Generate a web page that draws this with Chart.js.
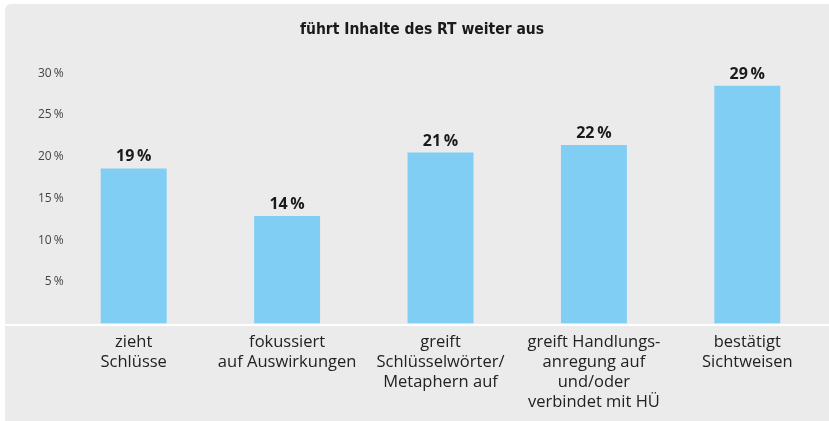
<!DOCTYPE html>
<html>
<head>
<meta charset="utf-8">
<script src="https://cdn.jsdelivr.net/npm/chart.js@4"></script>
<style>
  html, body { margin: 0; padding: 0; background: #fff; }
  #wrap { position: absolute; left: 5px; top: 4px; width: 824px; height: 417px;
          background: #ebebeb; border-top-left-radius: 6px; }
  #chart { position: absolute; left: 0; top: 0; }
</style>
</head>
<body>
<div id="wrap"></div>
<canvas id="chart" width="829" height="421"></canvas>
<script>
const title = "führt Inhalte des RT weiter aus";
const categories = [
  ["zieht", "Schlüsse"],
  ["fokussiert", "auf Auswirkungen"],
  ["greift", "Schlüsselwörter/", "Metaphern auf"],
  ["greift Handlungs-", "anregung auf", "und/oder", "verbindet mit HÜ"],
  ["bestätigt", "Sichtweisen"],
];
const values = [18.6, 12.9, 20.5, 21.4, 28.5];
const valueLabels = ["19\u2009%", "14\u2009%", "21\u2009%", "22\u2009%", "29\u2009%"];
const yTicks = [5, 10, 15, 20, 25, 30];

// value labels above the bars + white baseline across the panel
const extras = {
  id: "extras",
  afterDatasetsDraw(chart) {
    const ctx = chart.ctx;
    const y0 = chart.scales.y.getPixelForValue(0);
    ctx.save();
    ctx.fillStyle = "#ffffff";
    ctx.fillRect(5, Math.round(y0), 824, 2);
    ctx.font = "bold 16px 'Open Sans'";
    ctx.fillStyle = "#1a1a1a";
    ctx.textAlign = "center";
    ctx.textBaseline = "alphabetic";
    chart.getDatasetMeta(0).data.forEach((bar, i) => {
      ctx.fillText(valueLabels[i], bar.x, bar.y - 7);
    });
    ctx.restore();
  }
};

new Chart(document.getElementById("chart"), {
  type: "bar",
  data: {
    labels: categories,
    datasets: [{
      data: values,
      backgroundColor: "#81cef4",
      barPercentage: 0.43,
      categoryPercentage: 1,
    }],
  },
  options: {
    responsive: false,
    animation: false,
    layout: { padding: { left: 20, right: 5, top: 0, bottom: 0 } },
    plugins: {
      legend: { display: false },
      tooltip: { enabled: false },
      title: {
        display: true,
        text: title,
        color: "#1a1a1a",
        font: { family: "'DejaVu Sans Condensed'", size: 15.5, weight: "bold", lineHeight: 1.2 },
        padding: { top: 21, bottom: 33.7 },
      },
    },
    scales: {
      x: {
        afterFit: (s) => { s.height = 97.5; },
        grid: { display: false },
        border: { display: false },
        ticks: {
          color: "#222",
          font: { family: "'Open Sans'", size: 16.5, lineHeight: 1.21 },
          padding: 1,
          maxRotation: 0,
          autoSkip: false,
        },
      },
      y: {
        min: 0,
        max: 30,
        afterFit: (s) => { s.width = 37; },
        afterBuildTicks: (s) => { s.ticks = yTicks.map((v) => ({ value: v })); },
        grid: { display: false },
        border: { display: false },
        ticks: {
          color: "#444",
          font: { family: "'Open Sans'", size: 12 },
          mirror: true,
          crossAlign: "far",
          padding: -19,
          callback: (v) => v + "\u2009%",
        },
      },
    },
  },
  plugins: [extras],
});
</script>
</body>
</html>
